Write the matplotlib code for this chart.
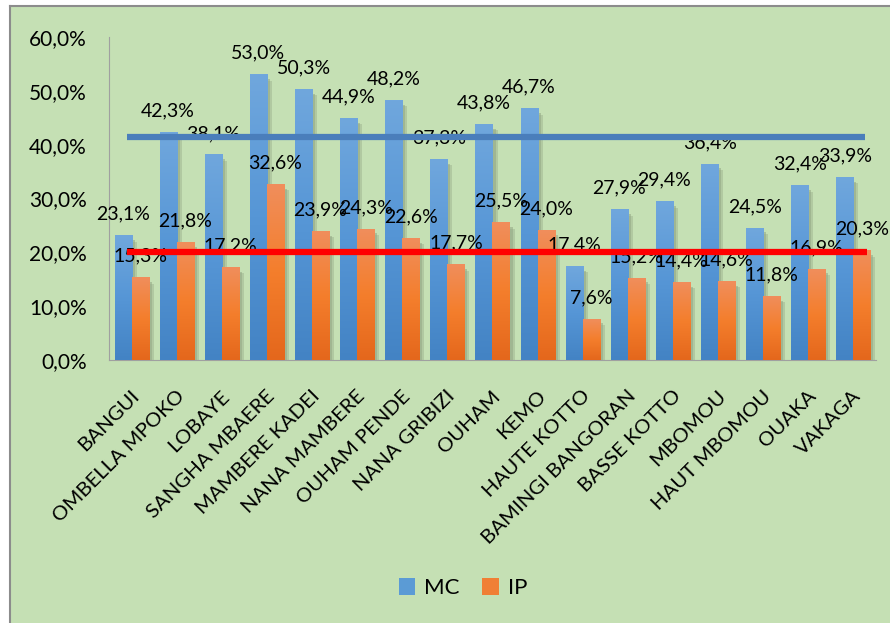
import numpy as np
import matplotlib
matplotlib.use("Agg")
import matplotlib.pyplot as plt
import matplotlib.transforms as mtransforms
from matplotlib.colors import LinearSegmentedColormap
from matplotlib.patches import Patch, Rectangle
from matplotlib.lines import Line2D
from matplotlib.ticker import FuncFormatter

plt.rcParams['font.family'] = ['Lato', 'DejaVu Sans']

# data
prefectures = ["BANGUI", "OMBELLA MPOKO", "LOBAYE", "SANGHA MBAERE", "MAMBERE KADEI",
               "NANA MAMBERE", "OUHAM PENDE", "NANA GRIBIZI", "OUHAM", "KEMO",
               "HAUTE KOTTO", "BAMINGI BANGORAN", "BASSE KOTTO", "MBOMOU",
               "HAUT MBOMOU", "OUAKA", "VAKAGA"]
mc = [23.1, 42.3, 38.1, 53.0, 50.3, 44.9, 48.2, 37.3, 43.8, 46.7,
      17.4, 27.9, 29.4, 36.4, 24.5, 32.4, 33.9]
ip = [15.3, 21.8, 17.2, 32.6, 23.9, 24.3, 22.6, 17.7, 25.5, 24.0,
      7.6, 15.2, 14.4, 14.6, 11.8, 16.9, 20.3]
ref_mc = 41.5
ref_ip = 20.0
yticks = [0, 10, 20, 30, 40, 50, 60]

bg = '#c5e0b4'
fig = plt.figure(figsize=(8.9, 6.23), dpi=100, facecolor='white')
# chart area (cropped on the right and bottom)
x0f, y1f = 9.5 / 890, 1 - 5.5 / 623
fig.add_artist(Rectangle((x0f, 0), 1 - x0f, y1f, transform=fig.transFigure,
                         facecolor=bg, edgecolor='none', zorder=-10))
fig.add_artist(Line2D([x0f, x0f], [0, y1f], transform=fig.transFigure,
                      color='#8c8c8c', lw=1.5, zorder=-9))
fig.add_artist(Line2D([x0f, 1], [y1f, y1f], transform=fig.transFigure,
                      color='#8c8c8c', lw=1.5, zorder=-9))

ax = fig.add_axes([109 / 890, 263 / 623, 767 / 890, 323 / 623])
ax.set_facecolor('none')

x = np.arange(len(prefectures))
w = 0.377
px = 1 / 45.1  # one pixel in category units

cm_mc = LinearSegmentedColormap.from_list('mc', ['#4383c4', '#5696d6', '#70a7dd'])
cm_ip = LinearSegmentedColormap.from_list('ip', ['#e4671c', '#f47e2c', '#f08e5c'])
grad = np.linspace(0, 1, 256).reshape(-1, 1)

for xs, vals, cmap in [(x - w / 2, mc, cm_mc), (x + w / 2, ip, cm_ip)]:
    # soft shadows
    ax.bar(xs + 4 * px, np.array(vals) - 0.6, w + 2 * px, bottom=-0.5,
           color='#9aae8a', alpha=0.45, lw=0, zorder=1)
    ax.bar(xs + 3 * px, np.array(vals) - 0.4, w, bottom=-0.4,
           color='#93a784', alpha=0.55, lw=0, zorder=1)
    bars = ax.bar(xs, vals, w, color=cmap(0.5), lw=0, zorder=2)
    for b in bars:
        ax.imshow(grad, cmap=cmap, origin='lower', aspect='auto', zorder=3,
                  extent=[b.get_x(), b.get_x() + b.get_width(), 0, b.get_height()])
    for xi, v in zip(xs, vals):
        ax.annotate(f"{v:.1f}%".replace('.', ','), (xi, v), xytext=(0, 11.5),
                    textcoords='offset points', ha='center', va='baseline',
                    fontsize=14, color='black', zorder=5)

ax.plot([-0.11, 16.25], [ref_mc, ref_mc], color='#4a7ebb', lw=4.5, zorder=10,
        solid_capstyle='butt')
ax.plot([-0.11, 16.3], [ref_ip, ref_ip], color='#ff0000', lw=4.5, zorder=10,
        solid_capstyle='butt')

ax.set_xlim(-0.5, 16.5)
ax.set_ylim(0, 60)
ax.set_yticks(yticks)
ax.yaxis.set_major_formatter(FuncFormatter(lambda v, p: f"{v:.1f}%".replace('.', ',')))
ax.tick_params(axis='y', length=0, pad=16, labelsize=15)
ax.set_xticks(x)
ax.set_xticklabels(prefectures, rotation=45, ha='right', va='center',
                   rotation_mode='anchor', fontsize=14.7)
ax.tick_params(axis='x', length=0, pad=24)
shift = mtransforms.ScaledTranslation(0.05, 0, fig.dpi_scale_trans)
for lbl in ax.get_xticklabels():
    lbl.set_transform(lbl.get_transform() + shift)

for s in ['top', 'right']:
    ax.spines[s].set_visible(False)
ax.spines['left'].set_color('#a0a0a0')
ax.spines['bottom'].set_color('#a0a0a0')

handles = [Patch(facecolor='#5b9bd5', label='MC'), Patch(facecolor='#f07f35', label='IP')]
fig.legend(handles=handles, loc='center', bbox_to_anchor=(0.52, 0.056), ncol=2,
           frameon=False, fontsize=16, handlelength=0.75, handleheight=0.75,
           handletextpad=0.4, columnspacing=1.0)

fig.savefig('out.png', dpi=100, facecolor='white')
